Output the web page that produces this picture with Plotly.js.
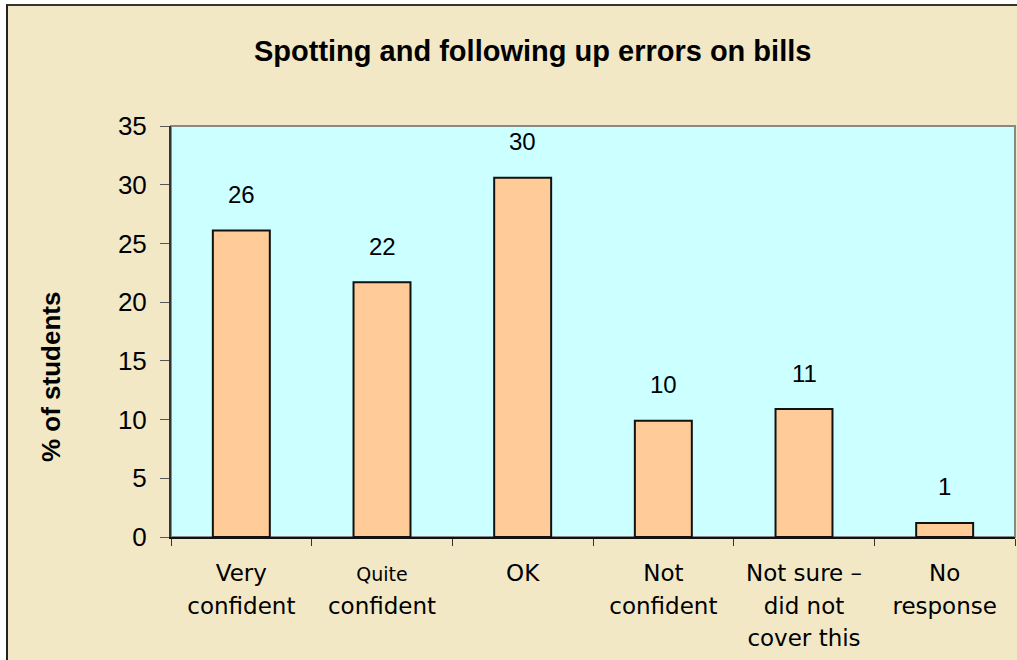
<!DOCTYPE html>
<html>
<head>
<meta charset="utf-8">
<script src="https://cdn.plot.ly/plotly-3.0.1.min.js"></script>
<style>
  html, body { margin: 0; padding: 0; background: #ffffff; }
  #frame {
    position: absolute; left: 6px; top: 4px;
    border-top: 2px solid #333; border-left: 2px solid #222;
  }
  #chart { width: 1009px; height: 654px; }
</style>
</head>
<body>
<div id="frame"><div id="chart"></div></div>
<script>
// survey answers, % of students
const categories = ['Very confident', 'Quite confident', 'OK', 'Not confident', 'Not sure - did not cover this', 'No response'];
const tickLabels = [
  '<span style="font-size:23px">Very<br>confident</span>',
  '<span style="font-size:19px">Quite</span><br><span style="font-size:23px">confident</span>',
  '<span style="font-size:23px">OK</span>',
  '<span style="font-size:23px">Not<br>confident</span>',
  '<span style="font-size:23px">Not sure \u2013<br>did not<br>cover this</span>',
  '<span style="font-size:23px">No<br>response</span>'
];
const percent = [26.1, 21.7, 30.6, 9.9, 10.9, 1.2];
const labels = ['26', '22', '30', '10', '11', '1'];

const numFont = 'Liberation Sans, Arial, sans-serif';

const trace = {
  x: categories,
  y: percent,
  type: 'bar',
  marker: { color: '#FFCC99', line: { color: '#111', width: 2 } },
  hoverinfo: 'x+y'
};

const notes = labels.map((t, i) => ({
  x: categories[i], y: percent[i], xref: 'x', yref: 'y',
  text: t, showarrow: false, yanchor: 'middle', yshift: 36,
  font: { family: numFont, size: 24, color: '#000' }
}));
notes.push({
  xref: 'paper', yref: 'paper', x: -0.143, y: 0.39, xanchor: 'center', yanchor: 'middle',
  text: '<b>% of students</b>', textangle: -90, showarrow: false,
  font: { family: numFont, size: 26, color: '#000' }
});

const layout = {
  width: 1009, height: 654,
  margin: { l: 163, r: 2, t: 120, b: 123 },
  paper_bgcolor: '#F2E8C6',
  plot_bgcolor: '#CCFFFF',
  bargap: 0.595,
  showlegend: false,
  title: {
    text: '<b>Spotting and following up errors on bills</b>',
    font: { family: 'Liberation Sans Narrow, Liberation Sans, Arial, sans-serif', size: 29, color: '#000' },
    x: 0.52, xanchor: 'center', y: 0.932, yanchor: 'middle'
  },
  xaxis: {
    type: 'category',
    tickvals: categories, ticktext: tickLabels,
    tickson: 'boundaries', ticks: 'outside', ticklen: 7, tickcolor: '#333',
    showline: true, linecolor: '#111', linewidth: 2,
    showgrid: false, tickangle: 0,
    tickfont: { family: 'DejaVu Sans, Verdana, sans-serif', size: 25, color: '#000' },
    ticklabelstandoff: 12
  },
  yaxis: {
    range: [0, 35], dtick: 5, tick0: 0,
    ticks: 'outside', ticklen: 9, tickcolor: '#555',
    showline: true, linecolor: '#333', linewidth: 2,
    showgrid: false, zeroline: false,
    tickfont: { family: numFont, size: 26, color: '#000' },
    ticklabelstandoff: 8
  },
  shapes: [{
    type: 'rect', xref: 'paper', yref: 'paper', x0: 0, x1: 1, y0: 0, y1: 1,
    line: { color: '#888', width: 2 }, layer: 'below'
  }],
  annotations: notes
};

Plotly.newPlot('chart', [trace], layout, { displayModeBar: false, staticPlot: true });
</script>
</body>
</html>
